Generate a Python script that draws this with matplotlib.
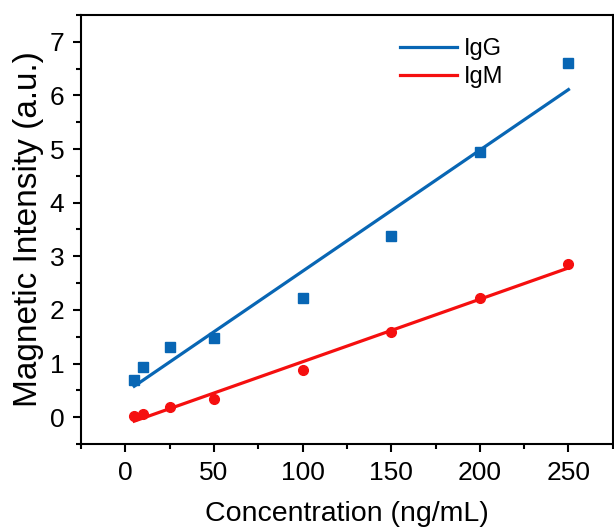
import numpy as np
import matplotlib
matplotlib.use("Agg")
import matplotlib.pyplot as plt
from matplotlib.ticker import MultipleLocator

plt.rcParams['font.family'] = ['Liberation Sans', 'DejaVu Sans']

conc = [5, 10, 25, 50, 100, 150, 200, 250]
igg = [0.69, 0.93, 1.30, 1.48, 2.23, 3.37, 4.94, 6.61]
igm = [0.02, 0.05, 0.19, 0.34, 0.88, 1.59, 2.23, 2.85]

blue = '#0866B4'
red = '#F50F0F'

fig = plt.figure(figsize=(6.14, 5.30), dpi=100)
ax = fig.add_axes([0.132, 0.1623, 0.866, 0.8094])

x = np.array(conc, dtype=float)
xf = np.array([x.min(), x.max()])
for y, c, lab, m, ms in [(igg, blue, 'IgG', 's', 6.5), (igm, red, 'IgM', 'o', 7)]:
    p = np.polyfit(x, np.array(y), 1)
    ax.plot(xf, np.polyval(p, xf), color=c, lw=2.3, label=lab, zorder=2)
    ax.plot(x, y, ls='none', marker=m, ms=ms, color=c, zorder=3)

ax.set_xlim(-25, 275)
ax.set_ylim(-0.5, 7.5)
ax.xaxis.set_major_locator(MultipleLocator(50))
ax.xaxis.set_minor_locator(MultipleLocator(25))
ax.yaxis.set_major_locator(MultipleLocator(1))
ax.yaxis.set_minor_locator(MultipleLocator(0.5))
ax.tick_params(which='both', direction='out', top=False, right=False, width=1.5, labelsize=19)
ax.tick_params(which='major', length=6, pad=6)
ax.tick_params(which='minor', length=3.5)
for s in ax.spines.values():
    s.set_linewidth(1.5)

ax.set_xlabel('Concentration (ng/mL)', fontsize=20.5, labelpad=12)
ax.set_ylabel('Magnetic Intensity (a.u.)', fontsize=24, labelpad=4)

ax.legend(loc='upper left', bbox_to_anchor=(0.56, 0.995), frameon=False, fontsize=17,
          handlelength=2.4, handletextpad=0.3, labelspacing=0.25)

fig.savefig('out.png', dpi=100)
